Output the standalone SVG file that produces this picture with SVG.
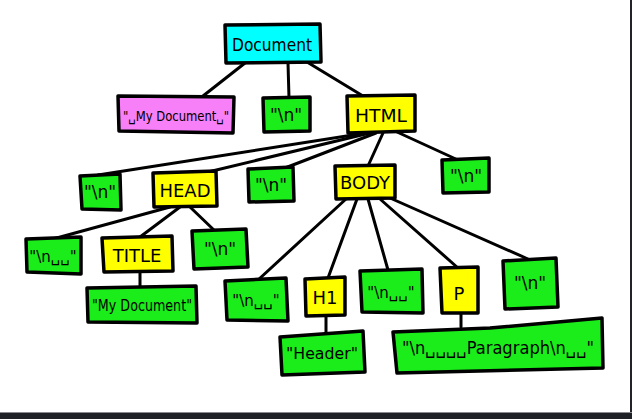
<svg xmlns="http://www.w3.org/2000/svg" width="632" height="419" viewBox="0 0 632 419">
<style>
.box{stroke:#000;stroke-width:3.5;stroke-linejoin:round}
.cyan{fill:#00ffff}.pink{fill:#f77ff7}.green{fill:#1bed1b}.yellow{fill:#ffff00}
text{font-family:"DejaVu Sans","Liberation Sans",sans-serif;fill:#000;text-anchor:middle}
.lbl{font-size:18px}.s{font-size:15px}.n{font-size:17px}
#connectors line{stroke:#000;stroke-width:3;stroke-linecap:round}
</style>
<rect width="632" height="419" fill="#ffffff"/>
<g id="connectors">
<line x1="245" y1="63" x2="203" y2="96"/>
<line x1="288" y1="63" x2="289" y2="98"/>
<line x1="307" y1="62" x2="363" y2="96"/>
<line x1="372" y1="132" x2="98" y2="175"/>
<line x1="374" y1="132" x2="208" y2="172"/>
<line x1="376" y1="133" x2="285" y2="168"/>
<line x1="383" y1="133" x2="368" y2="166"/>
<line x1="397" y1="132" x2="458" y2="160"/>
<line x1="170" y1="207" x2="53" y2="239"/>
<line x1="180" y1="207" x2="140" y2="237"/>
<line x1="190" y1="207" x2="215" y2="231"/>
<line x1="140" y1="272" x2="140" y2="287"/>
<line x1="346" y1="199" x2="258" y2="280"/>
<line x1="357" y1="199" x2="328" y2="278"/>
<line x1="368" y1="199" x2="388" y2="270"/>
<line x1="380" y1="199" x2="458" y2="268"/>
<line x1="390" y1="198" x2="528" y2="259"/>
<line x1="326" y1="316" x2="326" y2="334"/>
<line x1="461" y1="313" x2="461" y2="327"/>
</g>
<g id="document"><polygon class="box cyan" points="225,25 320,24 321,62 226,63"/><text class="lbl" x="272" y="51" font-size="19" textLength="80" lengthAdjust="spacingAndGlyphs">Document</text></g>
<g id="text-mydoc-top"><polygon class="box pink" points="118,96 234,97 233,133 119,131"/><text x="176" y="121" font-size="14" textLength="106" lengthAdjust="spacingAndGlyphs">"␣My Document␣"</text></g>
<g id="text-n-top"><polygon class="box green" points="263,98 310,97 310,131 264,132"/><text class="n" x="286" y="121">"\n"</text></g>
<g id="html"><polygon class="box yellow" points="347,96 415,95 415,131 348,133"/><text class="lbl" x="381" y="122" font-size="20" textLength="52" lengthAdjust="spacingAndGlyphs">HTML</text></g>
<g id="text-n-1"><polygon class="box green" points="80,176 120,174 121,210 82,209"/><text class="n" x="100" y="198">"\n"</text></g>
<g id="head"><polygon class="box yellow" points="153,173 216,171 217,206 154,207"/><text class="lbl" x="185" y="197">HEAD</text></g>
<g id="text-n-2"><polygon class="box green" points="248,169 293,167 294,201 249,202"/><text class="n" x="271" y="191">"\n"</text></g>
<g id="body"><polygon class="box yellow" points="335,166 395,165 395,198 336,199"/><text class="lbl" x="365" y="189">BODY</text></g>
<g id="text-n-3"><polygon class="box green" points="442,160 489,158 489,192 443,193"/><text class="n" x="466" y="182">"\n"</text></g>
<g id="text-head-1"><polygon class="box green" points="26,239 81,237 81,274 27,272"/><text class="s" x="53" y="262">"\n␣␣"</text></g>
<g id="title"><polygon class="box yellow" points="102,238 172,236 173,271 104,272"/><text class="lbl" x="137" y="262">TITLE</text></g>
<g id="text-head-2"><polygon class="box green" points="192,231 246,229 248,267 194,269"/><text class="n" x="220" y="255">"\n"</text></g>
<g id="text-title"><polygon class="box green" points="87,288 196,286 197,323 88,322"/><text x="142" y="311" font-size="15" textLength="100" lengthAdjust="spacingAndGlyphs">"My Document"</text></g>
<g id="text-body-1"><polygon class="box green" points="225,281 286,278 288,321 227,320"/><text class="s" x="256" y="306">"\n␣␣"</text></g>
<g id="h1"><polygon class="box yellow" points="305,279 345,277 345,315 306,316"/><text class="lbl" x="325" y="304" font-size="19">H1</text></g>
<g id="text-body-2"><polygon class="box green" points="360,271 422,269 423,313 362,312"/><text class="s" x="391" y="298">"\n␣␣"</text></g>
<g id="p"><polygon class="box yellow" points="440,268 478,267 478,313 442,313"/><text class="lbl" x="459" y="300" font-size="22">P</text></g>
<g id="text-body-3"><polygon class="box green" points="503,261 556,258 558,307 505,309"/><text class="n" x="530" y="289">"\n"</text></g>
<g id="text-h1"><polygon class="box green" points="280,337 363,331 365,372 282,375"/><text x="322" y="359" font-size="16" textLength="72" lengthAdjust="spacingAndGlyphs">"Header"</text></g>
<g id="text-p"><polygon class="box green" points="393,332 490,328 602,318 603,368 397,373"/><text x="498" y="354" font-size="17" textLength="192" lengthAdjust="spacingAndGlyphs">"\n␣␣␣␣Paragraph\n␣␣"</text></g>
<rect x="630" y="0" width="2" height="419" fill="#222228"/>
<rect x="0" y="412" width="632" height="1" fill="#8a8a8e"/>
<rect x="0" y="413" width="632" height="6" fill="#1f2026"/>
</svg>
